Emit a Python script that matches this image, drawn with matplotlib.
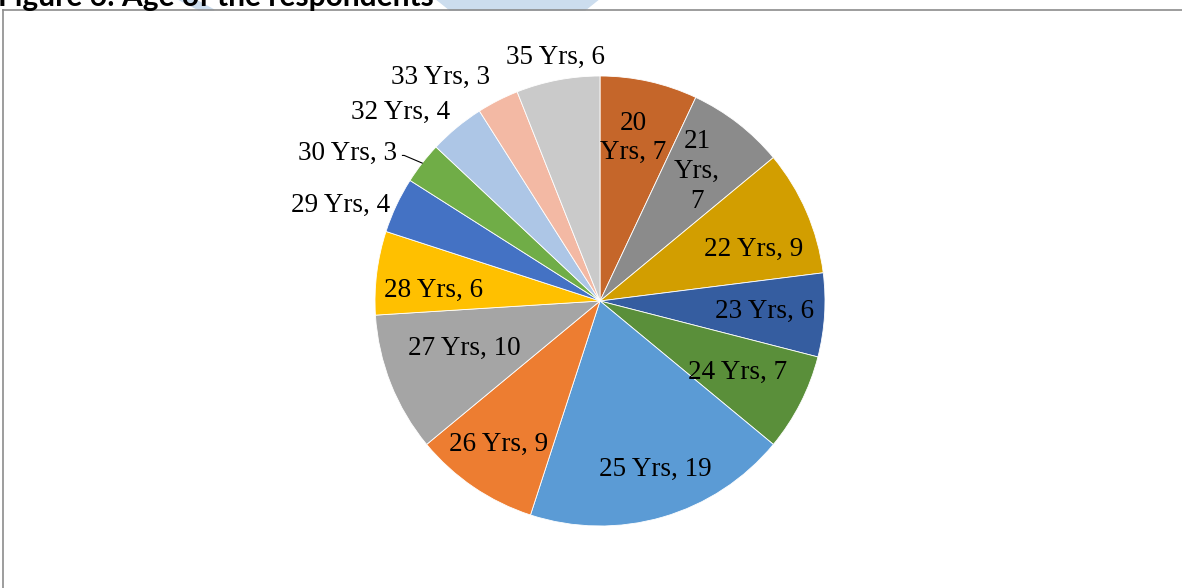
import numpy as np
import matplotlib.pyplot as plt
from matplotlib.patches import Polygon

# data
ages = ['20', '21', '22', '23', '24', '25', '26', '27', '28', '29', '30', '32', '33', '35']
counts = [7, 7, 9, 6, 7, 19, 9, 10, 6, 4, 3, 4, 3, 6]
label_texts = ['20\nYrs, 7', '21\nYrs,\n7', '22 Yrs, 9', '23 Yrs, 6', '24 Yrs, 7',
               '25 Yrs, 19', '26 Yrs, 9', '27 Yrs, 10', '28 Yrs, 6', '29 Yrs, 4',
               '30 Yrs, 3', '32 Yrs, 4', '33 Yrs, 3', '35 Yrs, 6']

colors = ['#C5662A', '#8B8B8B', '#D29E00', '#355DA0', '#5A8F3A',
          '#5B9BD5', '#ED7D31', '#A5A5A5', '#FFC000', '#4472C4',
          '#70AD47', '#ADC6E6', '#F3B9A4', '#CACACA']

# label placement: fraction of radius and angle shift (deg) from wedge middle
label_r = [0.74, 0.72, 0.72, 0.735, 0.69, 0.79, 0.78, 0.64, 0.74, 1.23, 1.30, 1.22, 1.22, 1.10]
label_shift = [1, 1, -5, 0, -0.5, 2, -1, -2.5, 3.5, 5, 7.5, 7, 8.5, -0.5]

W, H = 1182, 588
fig = plt.figure(figsize=(W / 100, H / 100), dpi=100)
ax = fig.add_axes([0, 0, 1, 1])

cx, cy, R = 600, 287, 225
wedges, _ = ax.pie(counts, colors=colors, startangle=90, counterclock=False,
                   center=(cx, cy), radius=R, frame=True,
                   wedgeprops=dict(edgecolor='white', linewidth=0.6))

ax.set_xlim(0, W)
ax.set_ylim(0, H)
ax.set_aspect('auto')
ax.axis('off')

for i, w in enumerate(wedges):
    mid = 0.5 * (w.theta1 + w.theta2)
    ang = np.deg2rad(mid + label_shift[i])
    x = cx + label_r[i] * R * np.cos(ang)
    y = cy + label_r[i] * R * np.sin(ang)
    ax.text(x, y, label_texts[i], ha='center', va='center', multialignment='center',
            fontsize=19.5, family='Liberation Serif', color='black', linespacing=1.25)
    if ages[i] == '30':
        # leader line from label to the wedge edge
        ex = cx + R * np.cos(np.deg2rad(mid))
        ey = cy + R * np.sin(np.deg2rad(mid))
        ax.plot([x + 55, ex - 18, ex], [y - 2, y - 2, ey], color='black', lw=0.8)

# chart frame (only top and left edges are inside the picture)
ax.plot([3, 3], [-5, H - 10], color='#8C8C8C', lw=1.2)
ax.plot([3, W + 5], [H - 10, H - 10], color='#8C8C8C', lw=1.2)

# light blue shapes behind the caption
ax.add_patch(Polygon([[435, H + 2], [600, H + 2], [585, H - 10], [450, H - 10]],
                     closed=True, color='#CCDDEE', zorder=0))
ax.add_patch(Polygon([[176, H + 2], [192, H + 2], [214, H - 10], [199, H - 10]],
                     closed=True, color='#CCDDEE', zorder=0))

# caption, cut off by the top of the picture
ax.text(-2, H - 6, 'Figure 6: Age of the respondents', ha='left', va='baseline',
        fontsize=21.5, fontweight='bold', family='Lato', color='black')

fig.savefig('out.png', dpi=100)
